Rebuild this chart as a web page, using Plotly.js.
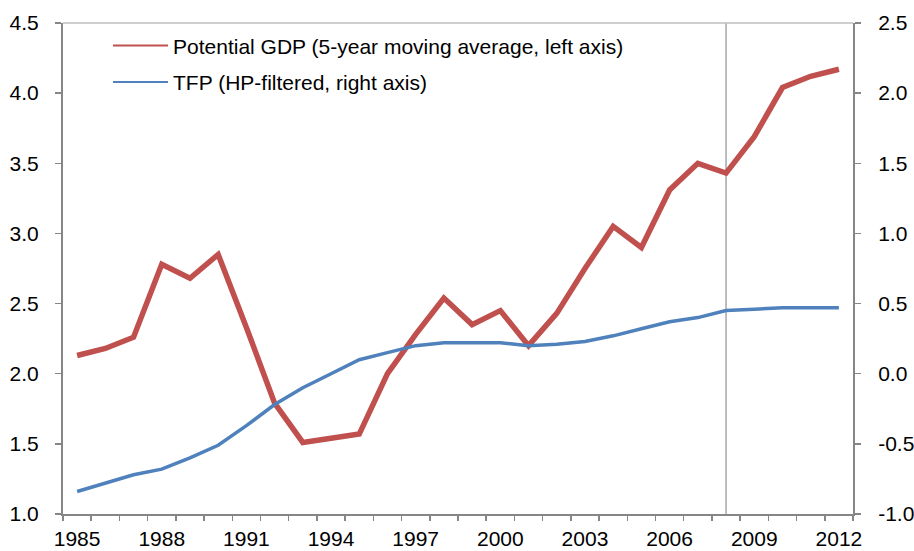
<!DOCTYPE html>
<html><head><meta charset="utf-8">
<script src="https://cdn.plot.ly/plotly-3.0.1.min.js"></script>
<style>html,body{margin:0;padding:0;background:#fff}#chart{width:914px;height:551px}</style>
</head><body><div id="chart"></div>
<script>
const years = [1985,1986,1987,1988,1989,1990,1991,1992,1993,1994,1995,1996,1997,1998,1999,2000,2001,2002,2003,2004,2005,2006,2007,2008,2009,2010,2011,2012];
const potentialGDP = [2.13,2.18,2.26,2.78,2.68,2.85,2.33,1.79,1.51,1.54,1.57,2.00,2.28,2.54,2.35,2.45,2.20,2.43,2.75,3.05,2.90,3.31,3.50,3.43,3.69,4.04,4.12,4.17];
const tfp = [-0.84,-0.78,-0.72,-0.68,-0.60,-0.51,-0.37,-0.22,-0.10,0.00,0.10,0.15,0.20,0.22,0.22,0.22,0.20,0.21,0.23,0.27,0.32,0.37,0.40,0.45,0.46,0.47,0.47,0.47];
const xTickLabels = [1985,1988,1991,1994,1997,2000,2003,2006,2009,2012];
const leftTicks = [1.0,1.5,2.0,2.5,3.0,3.5,4.0,4.5];
const rightTicks = [-1.0,-0.5,0.0,0.5,1.0,1.5,2.0,2.5];
const markerYear = 2008;
const names = ["Potential GDP (5-year moving average, left axis)", "TFP (HP-filtered, right axis)"];

const red = "#C0504D", blue = "#4F81BD", axisGray = "#868686";
const traces = [
  {x: years, y: potentialGDP, type: "scatter", mode: "lines", name: names[0], yaxis: "y", line: {color: red, width: 5.5}, showlegend: false},
  {x: years, y: tfp, type: "scatter", mode: "lines", name: names[1], yaxis: "y2", line: {color: blue, width: 3.5}, showlegend: false},
  {x: [null], y: [null], type: "scatter", mode: "lines", name: names[0], legendgroup: "a", line: {color: red, width: 2}},
  {x: [null], y: [null], type: "scatter", mode: "lines", name: names[1], legendgroup: "b", yaxis: "y2", line: {color: blue, width: 2}}
];
const tickFont = {family: "Liberation Sans, Arial, sans-serif", size: 21, color: "#000"};
const layout = {
  width: 914, height: 551,
  margin: {l: 63, r: 61, t: 23, b: 37},
  paper_bgcolor: "#fff", plot_bgcolor: "#fff",
  font: tickFont,
  xaxis: {
    range: [1984.5, 2012.5], showgrid: false, zeroline: false, automargin: false,
    tickmode: "array", tickvals: xTickLabels, ticktext: xTickLabels.map(String),
    ticks: "", showline: true, linecolor: axisGray, linewidth: 2,
    tickfont: tickFont, ticklabelstandoff: 5,
    minor: {ticks: "outside", tick0: 1984.5, dtick: 1, ticklen: 5, tickcolor: axisGray, tickwidth: 1.5, showgrid: false}
  },
  yaxis: {
    range: [1.0, 4.5], tickmode: "array", tickvals: leftTicks, ticktext: leftTicks.map(v => v.toFixed(1)),
    showgrid: false, zeroline: false, showline: true, linecolor: axisGray, linewidth: 2, automargin: false,
    ticks: "outside", ticklen: 6, tickcolor: axisGray, tickwidth: 1.5, tickfont: tickFont, ticklabelstandoff: 12
  },
  yaxis2: {
    range: [-1.0, 2.5], overlaying: "y", side: "right", tickmode: "array", tickvals: rightTicks,
    ticktext: rightTicks.map(v => v.toFixed(1)), automargin: false,
    showgrid: false, zeroline: false, showline: true, linecolor: axisGray, linewidth: 2,
    ticks: "outside", ticklen: 6, tickcolor: axisGray, tickwidth: 1.5, tickfont: tickFont, ticklabelstandoff: 13
  },
  legend: {
    x: 0.057, y: 0.995, xanchor: "left", yanchor: "top", bgcolor: "rgba(0,0,0,0)",
    font: {family: "Liberation Sans, Arial, sans-serif", size: 21, color: "#000"},
    tracegroupgap: 6, itemwidth: 55, traceorder: "grouped"
  },
  shapes: [
    {type: "line", xref: "paper", yref: "paper", x0: 0, x1: 1, y0: 1, y1: 1, line: {color: "#BFBFBF", width: 1.5}},
    {type: "line", xref: "x", yref: "paper", x0: markerYear, x1: markerYear, y0: 0, y1: 1, line: {color: "#A6A6A6", width: 1.5}, layer: "below"}
  ]
};
Plotly.newPlot("chart", traces, layout, {displayModeBar: false, staticPlot: true});
</script>
</body></html>
